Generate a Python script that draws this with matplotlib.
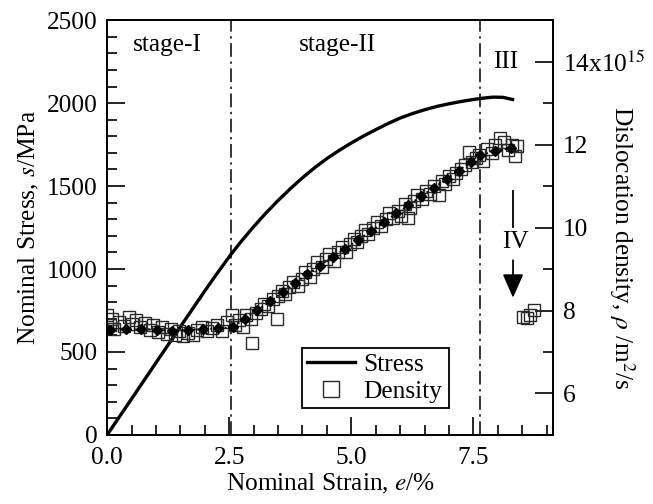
import numpy as np
import matplotlib
matplotlib.use("Agg")
import matplotlib.pyplot as plt
from matplotlib.lines import Line2D
from matplotlib.ticker import MultipleLocator, FixedLocator, FixedFormatter

plt.rcParams['font.family'] = ['Liberation Serif']
plt.rcParams['mathtext.fontset'] = 'stix'
plt.rcParams['font.size'] = 18.3

# stress-strain curve (strain %, stress MPa)
strain = [0.0, 0.5, 1.0, 1.5, 2.0, 2.25, 2.54, 2.75, 3.0, 3.25, 3.5, 3.75,
          4.0, 4.25, 4.5, 4.75, 5.0, 5.25, 5.5, 5.75, 6.0, 6.25, 6.5, 6.75,
          7.0, 7.25, 7.5, 7.7, 7.9, 8.1, 8.3]
stress = [0, 217, 435, 652, 868, 973, 1090, 1168, 1255, 1337, 1413, 1484,
          1550, 1611, 1666, 1715, 1760, 1802, 1840, 1877, 1910, 1937, 1960, 1980,
          1996, 2010, 2022, 2030, 2036, 2035, 2022]

# dislocation density trend (filled markers), x10^15 m^2/s
trend_x = [0.06, 0.39, 0.70, 1.02, 1.33, 1.65, 1.96, 2.27, 2.57, 2.82, 3.07,
           3.34, 3.60, 3.85, 4.10, 4.36, 4.62, 4.88, 5.14, 5.40, 5.66, 5.92,
           6.17, 6.43, 6.69, 6.95, 7.20, 7.45, 7.64, 7.95, 8.26]
trend_d = [7.53, 7.55, 7.55, 7.54, 7.50, 7.53, 7.55, 7.57, 7.60, 7.80, 8.01,
           8.22, 8.44, 8.66, 8.88, 9.08, 9.30, 9.49, 9.71, 9.91, 10.13, 10.34,
           10.54, 10.76, 10.96, 11.17, 11.37, 11.59, 11.75, 11.85, 11.91]

# measured density (open squares)
dens_x = [0.00, 0.05, 0.10, 0.15, 0.25, 0.35, 0.44, 0.50, 0.60, 0.68, 0.78,
          0.88, 0.95, 1.05, 1.12, 1.22, 1.30, 1.40, 1.48, 1.55, 1.65, 1.75,
          1.85, 1.95, 2.05, 2.15, 2.25, 2.35, 2.45, 2.55, 2.62,
          2.70, 2.78, 2.85, 2.96, 2.95, 3.05, 3.15, 3.22, 3.30, 3.40, 3.48,
          3.50, 3.58, 3.65, 3.72, 3.80, 3.90, 3.98, 4.05, 4.15, 4.22, 4.30,
          4.40, 4.48, 4.55, 4.65, 4.72, 4.80, 4.90, 4.97, 5.05, 5.12, 5.20,
          5.28, 5.35, 5.45, 5.52, 5.60, 5.70, 5.78, 5.85, 5.95, 6.02, 6.10,
          6.17, 6.20, 6.28, 6.35, 6.45, 6.52, 6.60, 6.70, 6.79, 6.85, 6.92,
          7.00, 7.08, 7.15, 7.25, 7.32, 7.40, 7.48, 7.55, 7.62, 7.70, 7.78,
          7.88, 7.95, 8.05, 8.12, 8.20, 8.28, 8.35, 8.40,
          8.52, 8.60, 8.66, 8.74]
dens_d = [7.88, 7.66, 7.80, 7.56, 7.72, 7.62, 7.85, 7.68, 7.76, 7.60, 7.70,
          7.54, 7.66, 7.48, 7.60, 7.44, 7.56, 7.40, 7.50, 7.38, 7.46, 7.40,
          7.52, 7.60, 7.50, 7.58, 7.64, 7.50, 7.72, 7.88, 7.66,
          7.76, 7.60, 7.88, 7.22, 7.80, 7.94, 8.04, 8.16, 8.10, 8.28, 7.79,
          8.36, 8.48, 8.40, 8.56, 8.68, 8.60, 8.76, 8.92, 8.80, 9.00, 9.16,
          9.04, 9.24, 9.36, 9.20, 9.40, 9.52, 9.42, 9.60, 9.72, 9.64, 9.80,
          9.94, 9.84, 10.00, 10.14, 10.04, 10.20, 10.34, 10.24, 10.40, 10.28, 10.56,
          10.22, 10.48, 10.64, 10.78, 10.68, 10.88, 10.82, 11.00, 10.78, 11.12, 11.04,
          11.24, 11.16, 11.32, 11.42, 11.50, 11.82, 11.58, 11.68, 11.76, 11.60, 11.90,
          11.80, 11.98, 12.16, 12.06, 11.88, 11.98, 11.72, 11.96,
          7.85, 7.82, 7.88, 8.02]

stage_bounds = [2.54, 7.64]

fig = plt.figure(figsize=(6.53, 5.04), dpi=100)
ax = fig.add_axes([0.164, 0.137, 0.683, 0.823])
ax2 = ax.twinx()

ax.plot(strain, stress, color='black', lw=2.4, zorder=3)
for xb in stage_bounds:
    ax.axvline(xb, color='black', lw=1.1, ls=(0, (9, 3, 1.5, 3)), zorder=1)

ax2.plot(dens_x, dens_d, ls='none', marker='s', ms=9, mfc='none',
         mec='#2a2a2a', mew=1.0)
ax2.plot(trend_x, trend_d, ls=':', color='black', lw=1.3, marker='D', ms=5.5,
         mfc='black', mec='black')

ax.set_xlim(0, 9.13)
ax.set_ylim(0, 2500)
ax2.set_ylim(5, 15)

ax.xaxis.set_major_locator(MultipleLocator(2.5))
ax.xaxis.set_minor_locator(MultipleLocator(0.5))
ax.yaxis.set_major_locator(MultipleLocator(500))
ax.yaxis.set_minor_locator(MultipleLocator(100))
ax.set_xticks([0, 2.5, 5.0, 7.5])
ax.set_xticklabels(['0.0', '2.5', '5.0', '7.5'])

ax2.yaxis.set_major_locator(FixedLocator([6, 8, 10, 12, 14]))
ax2.yaxis.set_major_formatter(FixedFormatter(['6', '8', '10', '12', r'14x10$^{15}$']))
ax2.yaxis.set_minor_locator(MultipleLocator(1))

for a in (ax, ax2):
    a.tick_params(which='major', direction='in', length=13, width=1.2, pad=7)
    a.tick_params(which='minor', direction='in', length=7, width=1.2)
    for sp in a.spines.values():
        sp.set_linewidth(1.3)
ax.tick_params(axis='x', pad=9)

ax.set_xlabel(r'Nominal Strain, $\it{e}$/%', labelpad=2)
ax.set_ylabel(r'Nominal Stress, $\it{s}$/MPa', labelpad=4)
ax2.set_ylabel(r'Dislocation density, $\rho$ /m$^2$/s', rotation=270,
               va='center', ha='center')
ax2.yaxis.set_label_coords(1.155, 0.45)

ax.text(1.23, 2350, 'stage-I', ha='center', va='center')
ax.text(4.71, 2350, 'stage-II', ha='center', va='center')
ax.text(8.16, 2250, 'III', ha='center', va='center')
ax.text(8.36, 1160, 'IV', ha='center', va='center')
ax.plot([8.31, 8.31], [1253, 1470], color='black', lw=1.3)
ax.annotate('', xy=(8.31, 810), xytext=(8.31, 1070),
            arrowprops=dict(arrowstyle='-|>,head_length=0.8,head_width=0.35',
                            color='black', lw=1.3))

handles = [Line2D([], [], color='black', lw=2.4),
           Line2D([], [], ls='none', marker='s', ms=11, mfc='none', mec='#2a2a2a', mew=1.0)]
leg = ax.legend(handles, ['Stress', 'Density'], loc='lower left',
                bbox_to_anchor=(0.437, 0.065, 0.33, 0.17), mode='expand',
                fancybox=False, framealpha=1, edgecolor='black',
                handlelength=1.9, handletextpad=0.3, borderpad=0.2,
                labelspacing=0.15, borderaxespad=0)
leg.get_frame().set_linewidth(1.3)

fig.savefig('out.png', dpi=100)
